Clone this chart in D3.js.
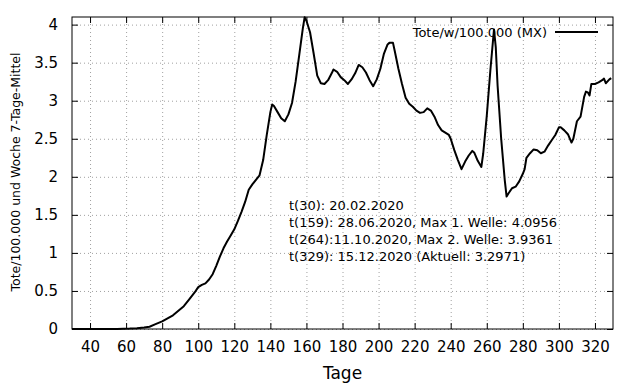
<!DOCTYPE html>
<html>
<head>
<meta charset="utf-8">
<script src="https://cdn.jsdelivr.net/npm/d3@7"></script>
<style>
  body { margin: 0; background: #fff; }
  text { font-family: "DejaVu Sans", sans-serif; fill: #000; }
  .grid line { stroke: #a0a0a0; stroke-dasharray: 1,3; }
  .grid .domain { display: none; }
</style>
</head>
<body>
<svg class="chart"></svg>
<script>
// day numbers and deaths per 100.000 / week (7 day mean)
var days = [30, 55, 62, 66, 70, 73, 76, 80, 83, 86, 89, 92, 95, 98, 100, 102, 104, 106, 108, 110,
  112, 114, 116, 118, 120, 122, 124, 126, 128, 130, 132, 134, 136, 138, 140, 141, 142, 144, 146, 148,
  150, 152, 154, 156, 158, 159, 160, 162, 164, 166, 168, 170, 172, 174, 175, 177, 179, 181, 183, 185,
  187, 189, 191, 193, 195, 197, 199, 201, 203, 205, 206, 208, 209, 211, 213, 215, 217, 219, 221, 223,
  225, 227, 229, 231, 233, 235, 237, 239, 240, 242, 244, 246, 248, 250, 252, 253, 255, 257, 258, 260,
  262, 264, 265, 266, 268, 270, 271, 272, 274, 276, 278, 280, 281, 282, 284, 286, 288, 290, 292, 294,
  296, 298, 300, 301, 303, 305, 307, 308, 310, 312, 314, 315, 316, 317, 318, 320, 322, 324, 325, 326,
  328, 329];
var deaths = [0, 0, 0.005, 0.01, 0.02, 0.03, 0.06, 0.10, 0.14, 0.18, 0.24, 0.30, 0.39, 0.48, 0.55, 0.58, 0.60, 0.65, 0.72, 0.83,
  0.95, 1.06, 1.15, 1.23, 1.31, 1.42, 1.54, 1.67, 1.83, 1.90, 1.96, 2.02, 2.22, 2.55, 2.85, 2.95, 2.93, 2.85, 2.77, 2.73,
  2.82, 2.97, 3.25, 3.60, 3.95, 4.0956, 4.05, 3.90, 3.62, 3.33, 3.23, 3.22, 3.27, 3.36, 3.41, 3.38, 3.31, 3.27, 3.22, 3.28,
  3.36, 3.47, 3.44, 3.37, 3.27, 3.19, 3.28, 3.42, 3.62, 3.74, 3.76, 3.76, 3.65, 3.42, 3.22, 3.04, 2.96, 2.92, 2.87, 2.84,
  2.85, 2.90, 2.87, 2.79, 2.68, 2.61, 2.58, 2.55, 2.50, 2.35, 2.22, 2.10, 2.20, 2.28, 2.34, 2.32, 2.21, 2.13, 2.30, 2.80,
  3.40, 3.9361, 3.70, 3.20, 2.50, 1.95, 1.74, 1.78, 1.85, 1.87, 1.94, 2.04, 2.10, 2.25, 2.31, 2.36, 2.35, 2.31, 2.33, 2.41,
  2.48, 2.55, 2.65, 2.65, 2.61, 2.56, 2.45, 2.50, 2.73, 2.79, 3.05, 3.12, 3.11, 3.07, 3.22, 3.22, 3.24, 3.27, 3.29, 3.23,
  3.28, 3.2971];

var xTicks = [40, 60, 80, 100, 120, 140, 160, 180, 200, 220, 240, 260, 280, 300, 320];
var yTicks = [0, 0.5, 1, 1.5, 2, 2.5, 3, 3.5, 4];
var yTickLabels = ['0', '0.5', '1', '1.5', '2', '2.5', '3', '3.5', '4'];

var seriesName = 'Tote/w/100.000 (MX)';
var notes = [
  't(30): 20.02.2020',
  't(159): 28.06.2020, Max 1. Welle: 4.0956',
  't(264):11.10.2020, Max 2. Welle: 3.9361',
  't(329): 15.12.2020 (Aktuell: 3.2971)'
];

var margin = {top: 17, right: 27, bottom: 55, left: 72},
  width = 640 - margin.left - margin.right,
  height = 384 - margin.top - margin.bottom;

var chart = d3.select('.chart')
  .attr('width', 640)
  .attr('height', 384);

var x = d3.scaleLinear().domain([30, 330]).range([0, width]),
  y = d3.scaleLinear().domain([0, 4.1]).range([height, 0]);

var g = chart.append('g')
  .attr('transform', 'translate(' + margin.left + ',' + margin.top + ')');

// dotted grid
g.append('g')
  .attr('class', 'grid')
  .call(d3.axisLeft(y).tickValues(yTicks).tickSize(-width).tickFormat(''));
g.append('g')
  .attr('class', 'grid')
  .attr('transform', 'translate(0,' + height + ')')
  .call(d3.axisBottom(x).tickValues(xTicks).tickSize(-height).tickFormat(''));

// inward ticks on all four sides, gnuplot style
function ticks(sel, axis) {
  sel.call(axis);
  sel.select('.domain').remove();
  sel.selectAll('.tick line').attr('stroke', '#000');
}
g.append('g').attr('transform', 'translate(0,' + height + ')')
  .call(ticks, d3.axisBottom(x).tickValues(xTicks).tickSizeInner(-6).tickSizeOuter(0).tickPadding(12))
  .selectAll('text').style('font-size', '15px');
g.append('g')
  .call(ticks, d3.axisTop(x).tickValues(xTicks).tickSizeInner(-6).tickSizeOuter(0).tickFormat(''));
g.append('g')
  .call(ticks, d3.axisLeft(y).tickValues(yTicks).tickSizeInner(-6).tickSizeOuter(0).tickPadding(14)
    .tickFormat(function(d, i) { return yTickLabels[i]; }))
  .selectAll('text').style('font-size', '15px');
g.append('g').attr('transform', 'translate(' + width + ',0)')
  .call(ticks, d3.axisRight(y).tickValues(yTicks).tickSizeInner(-6).tickSizeOuter(0).tickFormat(''));

// the curve
var line = d3.line()
  .x(function(d) { return x(d[0]); })
  .y(function(d) { return y(d[1]); });

g.append('path')
  .datum(days.map(function(d, i) { return [d, deaths[i]]; }))
  .attr('fill', 'none')
  .attr('stroke', '#000')
  .attr('stroke-width', 2)
  .attr('stroke-linejoin', 'round')
  .attr('d', line);

// frame
g.append('rect')
  .attr('width', width)
  .attr('height', height)
  .attr('fill', 'none')
  .attr('stroke', '#000');

// legend
g.append('text')
  .attr('x', 475)
  .attr('y', 15)
  .attr('dy', '0.35em')
  .attr('text-anchor', 'end')
  .style('font-size', '13px')
  .text(seriesName);
g.append('line')
  .attr('x1', 483).attr('x2', 526)
  .attr('y1', 15).attr('y2', 15)
  .attr('stroke', '#000')
  .attr('stroke-width', 2);

// annotation
g.append('g').selectAll('text')
  .data(notes)
  .enter().append('text')
  .attr('x', 217)
  .attr('y', function(d, i) { return 193 + i * 17; })
  .style('font-size', '13px')
  .text(function(d) { return d; });

// axis titles
chart.append('text')
  .attr('x', margin.left + width / 2)
  .attr('y', 379)
  .attr('text-anchor', 'middle')
  .style('font-size', '17px')
  .text('Tage');

chart.append('text')
  .attr('transform', 'translate(20,172) rotate(-90)')
  .attr('text-anchor', 'middle')
  .style('font-size', '12.5px')
  .text('Tote/100.000 und Woche 7-Tage-Mittel');
</script>
</body>
</html>
